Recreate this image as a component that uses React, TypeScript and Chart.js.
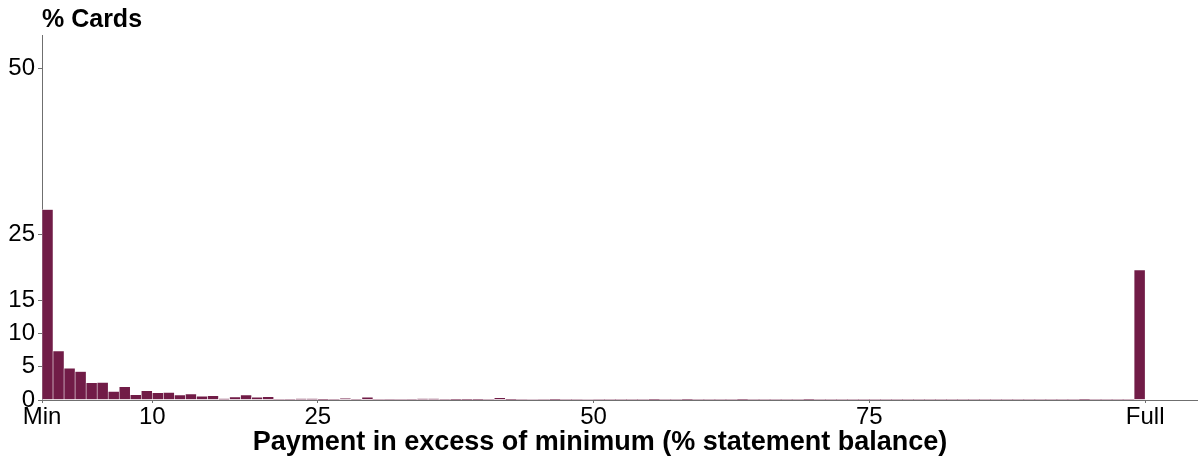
import React, { useEffect, useRef } from "react";
import { Chart, registerables } from "chart.js";

Chart.register(...registerables);

// Share of cards (%) by payment in excess of minimum, bins 0..99 (last bin = Full)
const binValues: number[] = [
  28.7, 7.4, 4.8, 4.3, 2.6, 2.65, 1.3, 2.0, 0.8, 1.4,
  1.1, 1.15, 0.75, 0.9, 0.58, 0.63, 0.2, 0.45, 0.75, 0.42,
  0.48, 0, 0.15, 0.2, 0.2, 0.1, 0.15, 0.25, 0.15, 0.4,
  0, 0.15, 0, 0.15, 0.2, 0.2, 0.15, 0.05, 0.1, 0.1,
  0, 0.35, 0.05, 0, 0.08, 0, 0.1, 0, 0, 0.08,
  0, 0, 0, 0, 0, 0.05, 0, 0, 0.05, 0,
  0, 0, 0, 0.05, 0, 0, 0, 0, 0, 0.1,
  0, 0, 0, 0, 0, 0, 0, 0, 0, 0,
  0, 0, 0, 0, 0, 0, 0, 0, 0, 0,
  0, 0, 0, 0, 0.05, 0, 0, 0, 0, 19.6,
];
const binStarts: number[] = binValues.map((_, i) => i);

const xTickValues: number[] = [0, 10, 25, 50, 75, 100];
const xTickLabels: string[] = ["Min", "10", "25", "50", "75", "Full"];
const yTickValues: number[] = [0, 5, 10, 15, 25, 50];

const yTitle = "% Cards";
const xTitle = "Payment in excess of minimum (% statement balance)";

const FONT = "'Liberation Sans', Arial, sans-serif";
const BAR = "#711c47";
const AXIS = "#6f6f6f";

export default function App() {
  const ref = useRef<HTMLCanvasElement | null>(null);

  useEffect(() => {
    const canvas = ref.current;
    if (!canvas) return;

    const titles = {
      id: "customTitles",
      afterDraw(chart: any) {
        const ctx = chart.ctx;
        const area = chart.chartArea;
        ctx.save();
        ctx.fillStyle = "#000";
        ctx.textBaseline = "alphabetic";
        ctx.textAlign = "left";
        ctx.font = `bold 25px ${FONT}`;
        ctx.fillText(yTitle, area.left, 27);
        ctx.textAlign = "center";
        ctx.font = `bold 27px ${FONT}`;
        ctx.fillText(xTitle, 600, 450);
        ctx.restore();
      },
    };

    const chart = new Chart(canvas, {
      type: "bar",
      data: {
        datasets: [
          {
            data: binStarts.map((s, i) => ({ x: s + 0.5, y: binValues[i] })),
            backgroundColor: BAR,
            borderColor: "rgba(255,255,255,0.75)",
            borderWidth: (c: any) => (c.raw && c.raw.y > 0 ? 0.6 : 0),
            borderSkipped: false,
            barPercentage: 1,
            categoryPercentage: 1,
          },
        ],
      },
      options: {
        animation: false,
        responsive: false,
        devicePixelRatio: 1,
        layout: { padding: { top: 35, right: 1, left: 0, bottom: 0 } },
        plugins: {
          legend: { display: false },
          tooltip: { enabled: false },
          title: { display: false },
        },
        scales: {
          x: {
            type: "linear",
            min: 0,
            max: 104.7,
            offset: false,
            grid: {
              offset: false,
              drawOnChartArea: false,
              drawTicks: true,
              tickLength: 3,
              tickColor: AXIS,
            },
            border: { display: true, color: AXIS, width: 1 },
            afterBuildTicks: (scale: any) => {
              scale.ticks = xTickValues.map((v) => ({ value: v }));
            },
            afterFit: (scale: any) => {
              scale.height = 59;
            },
            ticks: {
              autoSkip: false,
              maxRotation: 0,
              padding: 0,
              color: "#000",
              font: { family: FONT, size: 24 },
              callback: (v: any) => {
                const i = xTickValues.indexOf(Number(v));
                return i >= 0 ? xTickLabels[i] : "";
              },
            },
          },
          y: {
            type: "linear",
            min: 0,
            max: 55,
            grid: {
              drawOnChartArea: false,
              drawTicks: true,
              tickLength: 4,
              tickColor: AXIS,
            },
            border: { display: true, color: AXIS, width: 1 },
            afterBuildTicks: (scale: any) => {
              scale.ticks = yTickValues.map((v) => ({ value: v }));
            },
            afterFit: (scale: any) => {
              scale.width = 42;
            },
            ticks: {
              autoSkip: false,
              padding: 3,
              color: "#000",
              font: { family: FONT, size: 24 },
              callback: (v: any) => String(v),
            },
          },
        },
      },
      plugins: [titles],
    } as any);

    return () => chart.destroy();
  }, []);

  return (
    <div style={{ position: "absolute", left: 0, top: 0, width: 1198, height: 459, background: "#fff" }}>
      <canvas ref={ref} width={1198} height={459} style={{ display: "block", width: 1198, height: 459 }} />
    </div>
  );
}
